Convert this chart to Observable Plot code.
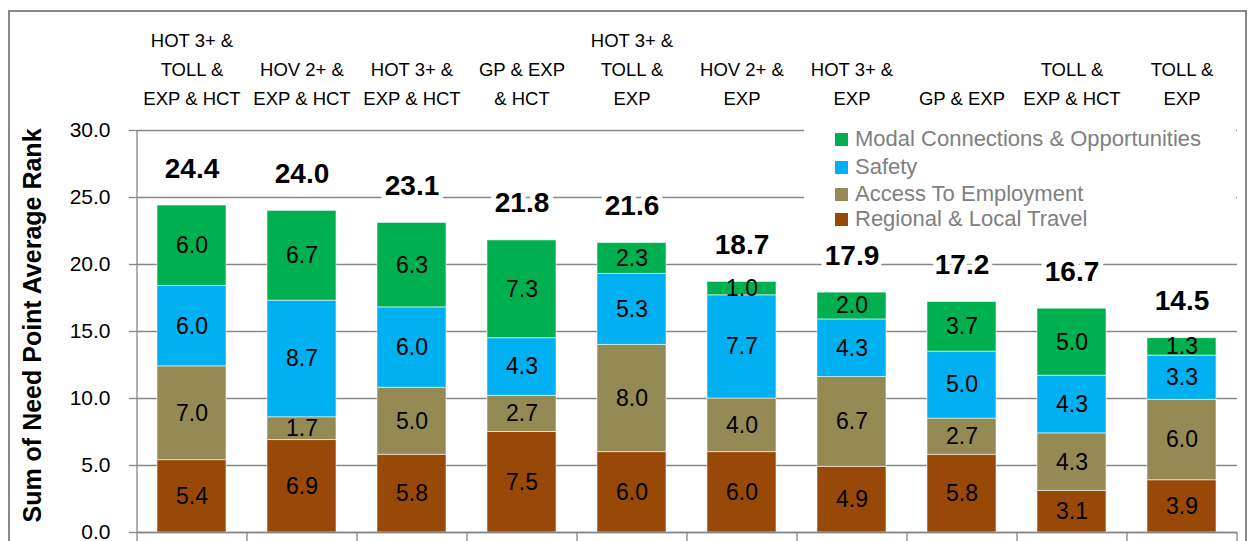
<!DOCTYPE html>
<html>
<head>
<meta charset="utf-8">
<script src="https://cdn.jsdelivr.net/npm/d3@7"></script>
<script src="https://cdn.jsdelivr.net/npm/@observablehq/plot@0.6"></script>
<style>
  html, body { margin: 0; padding: 0; background: #fff; }
  #wrap { position: relative; width: 1252px; height: 541px; overflow: hidden; font-family: "Liberation Sans", Arial, sans-serif; }
  #border { position: absolute; left: 8px; top: 10px; width: 1239px; height: 600px; border: 2px solid #878787; box-sizing: border-box; }
  #chart { position: absolute; left: 0; top: 0; }
  #legend { position: absolute; left: 804px; top: 124px; width: 432px; height: 106px; background: #fff; }
  .item { position: absolute; left: 31px; height: 20px; display: flex; align-items: center; font-size: 22px; color: #808080; white-space: nowrap; }
  .sw { width: 13px; height: 13px; margin-right: 7px; flex: none; }
</style>
</head>
<body>
<div id="wrap">
  <div id="border"></div>
  <div id="chart"></div>
  <div id="legend"></div>
</div>
<script>
const categories = [
  "HOT 3+ &\nTOLL &\nEXP & HCT",
  "HOV 2+ &\nEXP & HCT",
  "HOT 3+ &\nEXP & HCT",
  "GP & EXP\n& HCT",
  "HOT 3+ &\nTOLL &\nEXP",
  "HOV 2+ &\nEXP",
  "HOT 3+ &\nEXP",
  "GP & EXP",
  "TOLL &\nEXP & HCT",
  "TOLL &\nEXP"
];
const seriesNames = ["Regional & Local Travel", "Access To Employment", "Safety", "Modal Connections & Opportunities"];
const seriesColors = ["#984807", "#948A54", "#00B0F0", "#00B050"];
const regional = [5.4, 6.9, 5.8, 7.5, 6.0, 6.0, 4.9, 5.8, 3.1, 3.9];
const access   = [7.0, 1.7, 5.0, 2.7, 8.0, 4.0, 6.7, 2.7, 4.3, 6.0];
const safety   = [6.0, 8.7, 6.0, 4.3, 5.3, 7.7, 4.3, 5.0, 4.3, 3.3];
const modal    = [6.0, 6.7, 6.3, 7.3, 2.3, 1.0, 2.0, 3.7, 5.0, 1.3];
const totals   = [24.4, 24.0, 23.1, 21.8, 21.6, 18.7, 17.9, 17.2, 16.7, 14.5];
const yTicks = [0, 5, 10, 15, 20, 25, 30];
const yLabel = "Sum of Need Point Average Rank";

const seriesValues = [regional, access, safety, modal];
const rows = [];
seriesNames.forEach((s, si) => {
  categories.forEach((c, ci) => rows.push({category: c, series: s, value: seriesValues[si][ci]}));
});
const totalRows = categories.map((c, i) => ({category: c, total: totals[i]}));

const gray = "#868686";
const plot = Plot.plot({
  width: 1252,
  height: 541,
  marginLeft: 137,
  marginRight: 15,
  marginTop: 130,
  marginBottom: 9,
  style: {fontFamily: "Liberation Sans, Arial, sans-serif", background: "transparent", overflow: "visible"},
  x: {domain: categories, paddingInner: 0.37, paddingOuter: 0.185},
  y: {domain: [0, 30]},
  color: {domain: seriesNames, range: seriesColors},
  marks: [
    Plot.gridY(yTicks, {stroke: gray, strokeOpacity: 1, strokeWidth: 1.3}),
    Plot.axisY(yTicks, {tickSize: 8, tickPadding: 19, tickFormat: d3.format(".1f"), fontSize: 21, fill: "#000", stroke: gray, strokeWidth: 1.3, label: null}),
    Plot.axisX({anchor: "top", tickSize: 0, tickPadding: 26, fontSize: 18.5, lineHeight: 1.55, fill: "#000", label: null}),
    Plot.barY(rows, {x: "category", y: "value", fill: "series", order: seriesNames, stroke: "#fff", strokeOpacity: 0.55, strokeWidth: 1}),
    Plot.text(rows, Plot.stackY({x: "category", y: "value", z: "series", order: seriesNames, text: d => d.value.toFixed(1), fontSize: 23, fill: "#000"})),
    Plot.text(totalRows, {x: "category", y: "total", text: d => d.total.toFixed(1), dy: -37, fontSize: 28, fontWeight: "bold", fill: "#000", stroke: "#fff", strokeWidth: 10, paintOrder: "stroke"}),
    Plot.ruleY([0], {stroke: gray, strokeWidth: 1.3}),
    Plot.ruleX([categories[0]], {dx: -55, y1: 0, y2: 30, stroke: gray, strokeWidth: 1.3}),
    Plot.ruleX(categories, {dx: -55, y1: 0, y2: -1, stroke: gray, strokeWidth: 1.3}),
    Plot.ruleX([categories[categories.length - 1]], {dx: 55, y1: 0, y2: -1, stroke: gray, strokeWidth: 1.3}),
    Plot.text([yLabel], {frameAnchor: "left", textAnchor: "middle", lineAnchor: "middle", rotate: -90, dx: -105, dy: -6, fontSize: 25, fontWeight: "bold", fill: "#000"})
  ]
});
document.getElementById("chart").appendChild(plot);

const legend = document.getElementById("legend");
const legendOrder = [3, 2, 1, 0];
const rowTops = [5, 33, 60, 85];
legendOrder.forEach((si, k) => {
  const it = document.createElement("div");
  it.className = "item";
  it.style.top = rowTops[k] + "px";
  const sw = document.createElement("span");
  sw.className = "sw";
  sw.style.background = seriesColors[si];
  it.appendChild(sw);
  it.appendChild(document.createTextNode(seriesNames[si]));
  legend.appendChild(it);
});
</script>
</body>
</html>
